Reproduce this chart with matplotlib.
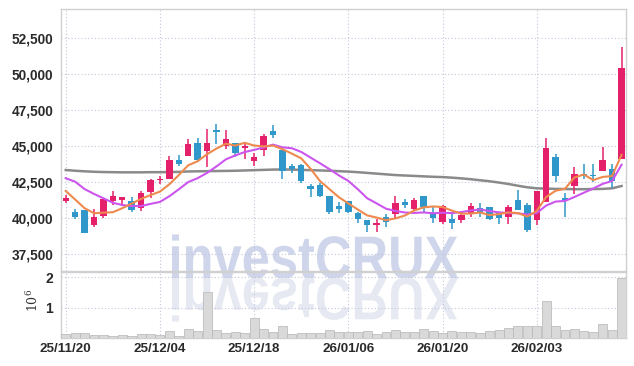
import matplotlib
matplotlib.use("Agg")
import matplotlib.pyplot as plt
from matplotlib.textpath import TextPath
from matplotlib.patches import PathPatch
from matplotlib.font_manager import FontProperties
from matplotlib.transforms import Affine2D
from matplotlib.ticker import FuncFormatter

plt.rcParams['font.family'] = ['Liberation Sans', 'DejaVu Sans']

# --
# data

dates = ['25/11/20', '25/12/04', '25/12/18', '26/01/06', '26/01/20', '26/02/03']
date_idx = [0, 10, 20, 30, 40, 50]

opens = [41200, 40450, 40600, 39500, 40150, 41200, 41300, 41200, 40700, 41800,
         42650, 42700, 44050, 44350, 45200, 44700, 46100, 45000, 45200, 44900,
         43950, 44750, 46050, 44750, 43600, 43700, 42250, 42300, 41550, 40850,
         41200, 40350, 39900, 39500, 40100, 40300, 41150, 40650, 41550, 40400,
         39750, 39950, 39850, 40300, 40700, 40750, 40350, 40100, 41250, 40900,
         39900, 41150, 44250, 41400, 42250, 43100, 43000, 43300, 43400, 44100]
closes = [41400, 40100, 39000, 40100, 41350, 41550, 41500, 40600, 41750, 42650,
          42750, 44050, 43800, 45150, 44050, 45200, 46000, 45500, 44500, 45000,
          44250, 45700, 45800, 43250, 43450, 42600, 42050, 41550, 40450, 40650,
          40450, 39950, 39500, 39700, 39750, 41050, 40950, 41250, 40800, 40050,
          40850, 39700, 40200, 40850, 40400, 39950, 40050, 40800, 40600, 39200,
          41900, 44900, 42950, 41300, 43100, 42950, 42950, 44050, 42600, 50450]
highs = [41600, 40650, 40600, 40650, 41350, 41900, 41500, 41450, 41900, 42700,
         42950, 44350, 44400, 45500, 45550, 46200, 46550, 46150, 45250, 45150,
         44500, 45850, 46500, 44750, 43750, 43800, 42400, 42450, 41550, 41100,
         41200, 40450, 39900, 39950, 40300, 41550, 41350, 41400, 41550, 40750,
         40950, 40350, 40300, 41050, 41050, 40800, 40450, 40900, 41950, 41050,
         41900, 45550, 44450, 41750, 43550, 43750, 43800, 44950, 43800, 51900]
lows = [41050, 39950, 39000, 39400, 40050, 40950, 41000, 40450, 40500, 41400,
        42400, 42700, 43600, 44350, 43900, 43550, 45150, 44800, 44250, 44150,
        43600, 44300, 45600, 42700, 43150, 42450, 41500, 41450, 40300, 40400,
        40350, 39650, 39050, 39050, 39400, 39950, 40700, 40600, 40400, 39700,
        39600, 39250, 39650, 40100, 40100, 39900, 39600, 39600, 40600, 39050,
        39550, 41150, 42550, 40100, 41700, 42750, 42500, 43300, 42100, 44100]
volume_m = [0.12, 0.16, 0.16, 0.11, 0.11, 0.08, 0.11, 0.08, 0.12, 0.12,
            0.09, 0.22, 0.07, 0.31, 0.22, 1.51, 0.28, 0.16, 0.19, 0.16,
            0.65, 0.31, 0.19, 0.38, 0.12, 0.16, 0.16, 0.15, 0.25, 0.19,
            0.19, 0.21, 0.23, 0.12, 0.19, 0.28, 0.19, 0.19, 0.30, 0.22,
            0.17, 0.22, 0.20, 0.21, 0.16, 0.22, 0.26, 0.33, 0.41, 0.38,
            0.38, 1.22, 0.41, 0.28, 0.31, 0.22, 0.19, 0.45, 0.28, 1.98]
ma5 = [41900, 41300, 40700, 40350, 40390, 40420, 40700, 41020, 41350, 41610,
       41850, 42360, 43000, 43680, 43960, 44450, 44840, 45180, 45050, 45240,
       45050, 44990, 45050, 44800, 44490, 44160, 43430, 42580, 42020, 41460,
       41030, 40610, 40200, 40050, 39870, 39990, 40190, 40540, 40760, 40820,
       40780, 40530, 40320, 40330, 40400, 40220, 40290, 40410, 40360, 40120,
       40510, 41480, 41910, 42050, 42830, 43040, 42650, 42870, 42930, 44400]
ma10 = [42780, 42540, 42030, 41690, 41390, 41080, 40920, 40850, 40850, 41000,
        41135, 41530, 42010, 42515, 42785, 43150, 43600, 44090, 44365, 44600,
        44750, 44915, 45115, 44925, 44865, 44605, 44210, 43815, 43410, 42975,
        42595, 42020, 41390, 41035, 40665, 40510, 40400, 40370, 40405, 40345,
        40385, 40360, 40430, 40545, 40610, 40500, 40410, 40365, 40345, 40260,
        40365, 40885, 41160, 41205, 41475, 41775, 42065, 42390, 42590, 43715]
ma60 = [43350, 43300, 43260, 43230, 43210, 43200, 43190, 43190, 43190, 43200,
        43200, 43210, 43220, 43250, 43260, 43270, 43280, 43290, 43300, 43320,
        43340, 43360, 43380, 43390, 43380, 43360, 43340, 43320, 43300, 43270,
        43240, 43200, 43150, 43100, 43050, 43000, 42970, 42940, 42910, 42880,
        42860, 42820, 42770, 42710, 42640, 42570, 42480, 42380, 42260, 42150,
        42080, 42060, 42040, 42030, 42020, 42020, 42030, 42040, 42080, 42240]

price_ticks = [37500, 40000, 42500, 45000, 47500, 50000, 52500]

# --
# plot

UP, DOWN = '#e5206a', '#2f97c9'
GRID = '#c4c6dc'

fig = plt.figure(figsize=(6.34, 3.66), dpi=100)
ax = fig.add_axes([0.097, 0.2596, 0.890, 0.715])
axv = fig.add_axes([0.097, 0.0765, 0.890, 0.180], sharex=ax)

x = list(range(len(closes)))
cols = [UP if c >= o else DOWN for o, c in zip(opens, closes)]
bottoms = [min(o, c) for o, c in zip(opens, closes)]
heights = [max(abs(c - o), 60) for o, c in zip(opens, closes)]

ax.vlines(x, lows, highs, colors=cols, lw=1.1, zorder=3)
ax.bar(x, heights, bottom=bottoms, width=0.68, color=cols, lw=0, zorder=4)

ax.plot(x, ma60, color='#8a8a8a', lw=1.8, zorder=2)
ax.plot(x, ma10, color='#cc55ee', lw=1.5, zorder=5)
ax.plot(x, ma5, color='#ef8a4e', lw=1.5, zorder=5)

ax.set_ylim(36340, 54510)
ax.set_xlim(-0.45, 59.45)
ax.set_yticks(price_ticks)
ax.yaxis.set_major_formatter(FuncFormatter(lambda v, p: f'{int(v):,}'))
ax.set_xticks(date_idx)
ax.tick_params(axis='x', labelbottom=False, length=0)
ax.tick_params(axis='y', length=0, pad=6, labelsize=9.8, labelcolor='#2a2a2a')
for t in ax.get_yticklabels():
    t.set_fontweight('bold')

axv.bar(x, [v * 1e6 for v in volume_m], width=0.95, color='#d9d9d9',
        edgecolor='#b5b5b5', lw=0.5, zorder=3)
axv.set_ylim(0, 2.17e6)
axv.set_yticks([1e6, 2e6])
axv.set_yticklabels(['1', '2'])
axv.set_xticks(date_idx)
axv.set_xticklabels(dates)
axv.tick_params(length=0, labelsize=9.6, labelcolor='#2a2a2a')
axv.tick_params(axis='y', pad=6, labelsize=10)
for t in axv.get_xticklabels() + axv.get_yticklabels():
    t.set_fontweight('bold')
fig.text(0.052, 0.18, r'$10^6$', rotation=90, fontsize=9, color='#333333',
         math_fontfamily='dejavuserif', ha='center', va='center')

for a in (ax, axv):
    a.set_facecolor('none')
    a.grid(True, color=GRID, ls=(0, (1, 2)), lw=0.8, zorder=0)
    a.set_axisbelow(True)
    for s in a.spines.values():
        s.set_color('#d0d0d0')
        s.set_linewidth(1.0)

# watermark + reflection, squeezed to the narrow look of the original
fp = FontProperties(family=['Liberation Sans', 'DejaVu Sans'], weight='bold')
tp = TextPath((0, 0), 'investCRUX', size=60, prop=fp)
ext = tp.get_extents()
cx = (ext.x0 + ext.x1) / 2
sx = 286 / (ext.x1 - ext.x0)
base = 366 - 278
t_main = Affine2D().translate(-cx, 0).scale(sx, 1).translate(315, base)
t_refl = Affine2D().translate(-cx, 0).scale(sx, -1).translate(315, base)
fig.patches.append(PathPatch(tp, transform=t_main, facecolor='#cfd5ea', lw=0,
                             zorder=-5))
fig.patches.append(PathPatch(tp, transform=t_refl, facecolor='#e6e8f2', lw=0,
                             zorder=-5))

fig.savefig('out.png', dpi=100)
